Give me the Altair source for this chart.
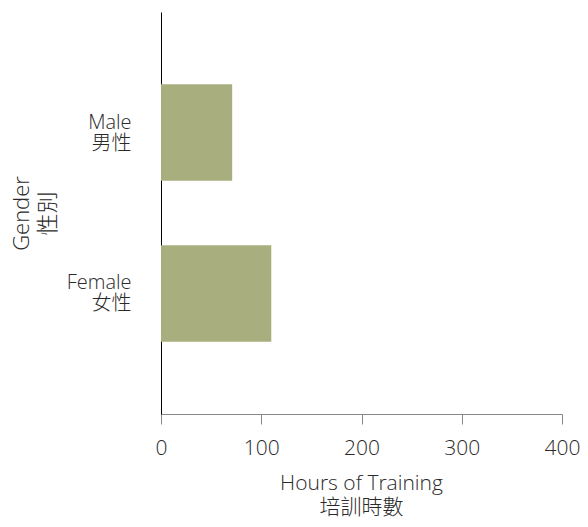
import altair as alt
import pandas as pd

genders = ["Male\n男性", "Female\n女性"]
hours = [71, 110]

df = pd.DataFrame({"gender": genders, "hours": hours})

FONT = "Open Sans, Noto Sans CJK TC, sans-serif"
TXT = "#2a2a2a"

chart = alt.Chart(df).mark_bar(color="#a8ae7e").encode(
    x=alt.X("hours:Q",
            scale=alt.Scale(domain=[0, 400], nice=False),
            axis=alt.Axis(values=[0, 100, 200, 300, 400], grid=False,
                          title=["Hours of Training", "培訓時數"],
                          titleX=200, titleY=69, titleBaseline="middle",
                          titleAlign="center", titleLineHeight=24,
                          titleFont=FONT, titleFontSize=21, titleFontWeight=300,
                          titleColor=TXT,
                          labelFont=FONT, labelFontSize=21, labelFontWeight=300,
                          labelColor=TXT, labelPadding=13,
                          tickSize=10, tickColor="#888", domainColor="#888",
                          labelFlush=False)),
    y=alt.Y("gender:N", sort=genders,
            scale=alt.Scale(paddingInner=0.4, paddingOuter=0.45),
            axis=alt.Axis(ticks=False, domainColor="#000",
                          labelExpr="split(datum.label, '\\n')",
                          labelFont=FONT, labelFontSize=20, labelFontWeight=300,
                          labelColor=TXT, labelPadding=30, labelLineHeight=21,
                          labelBaseline="middle", labelOffset=-10,
                          title=["Gender", "性別"],
                          titleX=-140, titleY=201, titleAngle=-90,
                          titleBaseline="middle", titleAlign="center",
                          titleLineHeight=26,
                          titleFont=FONT, titleFontSize=22, titleFontWeight=300,
                          titleColor=TXT)),
).properties(
    width=401, height=402,
    autosize=alt.AutoSizeParams(type="none"),
    padding={"left": 153, "top": 4, "right": 18, "bottom": 105},
).configure_view(stroke=None)

chart.save("out.html", embed_options={"renderer": "svg", "actions": False})
